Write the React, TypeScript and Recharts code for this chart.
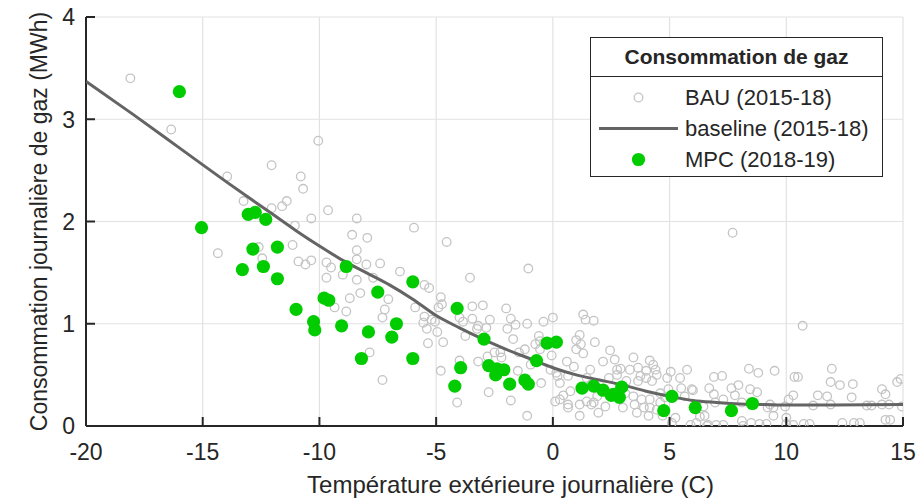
import React from 'react';
import { ScatterChart, Scatter, XAxis, YAxis, CartesianGrid, Legend } from 'recharts';

const FONT = '"Liberation Sans", Arial, Helvetica, sans-serif';
const INK = '#262626';
const BAU_COLOR = '#c4c4c4';
const BASELINE_COLOR = '#646464';
const MPC_COLOR = '#00cc00';
const TICK_LEN = 9;

const TEMP_TICKS = [-20, -15, -10, -5, 0, 5, 10, 15];
const GAS_TICKS = [0, 1, 2, 3, 4];

// BAU (2015-18): [temperature, gas MWh]
const BAU_POINTS: [number, number][] = [
  [-18.1, 3.4], [-16.35, 2.9], [-14.35, 1.69], [-13.95, 2.44], [-13.25, 2.2], [-12.6, 1.75],
  [-12.45, 1.64], [-12.05, 2.55], [-12.05, 2.13], [-11.6, 2.15], [-11.4, 2.2], [-11.15, 1.77],
  [-11.05, 1.96], [-10.9, 1.61], [-10.8, 2.44], [-10.7, 2.32], [-10.6, 1.58], [-10.35, 2.03],
  [-10.35, 1.62], [-10.05, 2.79], [-9.7, 1.45], [-9.7, 1.6], [-9.63, 2.11], [-9.5, 1.55],
  [-9.35, 1.16], [-9.0, 1.48], [-8.85, 1.12], [-8.7, 1.25], [-8.6, 1.87], [-8.4, 2.03],
  [-8.4, 1.72], [-8.4, 1.63], [-8.4, 1.43], [-8.25, 1.3], [-7.95, 1.84], [-7.99, 1.58],
  [-7.85, 0.72], [-7.7, 1.45], [-7.4, 1.59], [-7.3, 0.45], [-7.3, 1.06], [-7.2, 1.14],
  [-7.05, 1.24], [-6.55, 1.51], [-5.95, 1.94], [-5.9, 1.16], [-5.55, 1.01], [-5.5, 1.38],
  [-5.5, 1.07], [-5.4, 0.95], [-5.35, 0.81], [-5.3, 1.35], [-5.2, 1.04], [-5.05, 1.02],
  [-4.95, 0.92], [-4.9, 1.16], [-4.8, 1.26], [-4.8, 0.54], [-4.75, 1.19], [-4.7, 0.82],
  [-4.55, 1.8], [-4.1, 0.23], [-4.0, 0.64], [-4.0, 1.06], [-3.85, 1.02], [-3.75, 0.88],
  [-3.55, 1.45], [-3.45, 1.17], [-3.45, 1.05], [-3.25, 0.95], [-3.2, 0.98], [-3.2, 0.63],
  [-3.0, 1.18], [-2.85, 0.96], [-2.8, 0.68], [-2.75, 0.33], [-2.7, 1.04], [-2.5, 0.72],
  [-2.25, 0.72], [-2.2, 0.67], [-2.0, 1.15], [-1.95, 0.95], [-1.8, 1.05], [-1.8, 0.25],
  [-1.7, 0.85], [-1.6, 0.99], [-1.5, 0.54], [-1.45, 0.72], [-1.2, 0.75], [-1.1, 1.0],
  [-1.1, 0.1], [-1.05, 1.54], [-0.95, 0.6], [-0.75, 0.8], [-0.6, 0.88], [-0.55, 0.75],
  [-0.55, 0.83], [-0.5, 0.42], [-0.4, 1.02], [-0.1, 0.55], [-0.05, 0.69], [0.0, 1.06],
  [0.1, 0.24], [0.15, 0.52], [0.2, 0.49], [0.3, 0.26], [0.3, 0.42], [0.45, 0.3],
  [0.6, 0.63], [0.65, 0.18], [0.65, 0.49], [0.65, 0.21], [0.75, 0.34], [0.9, 0.58],
  [1.0, 0.84], [1.0, 0.75], [1.15, 0.89], [1.15, 0.1], [1.15, 0.21], [1.2, 0.8],
  [1.3, 0.71], [1.3, 1.09], [1.4, 1.04], [1.45, 0.24], [1.45, 0.47], [1.6, 0.55],
  [1.65, 0.21], [1.65, 0.41], [1.75, 1.03], [1.75, 0.23], [1.8, 0.82], [1.9, 0.29],
  [1.95, 0.13], [2.1, 0.36], [2.15, 0.63], [2.25, 0.19], [2.4, 0.47], [2.45, 0.74],
  [2.6, 0.29], [2.65, 0.65], [2.75, 0.55], [2.75, 0.5], [2.9, 0.56], [3.0, 0.18],
  [3.1, 0.32], [3.15, 0.44], [3.3, 0.55], [3.45, 0.67], [3.45, 0.29], [3.5, 0.21],
  [3.6, 0.13], [3.65, 0.57], [3.65, 0.44], [3.75, 0.49], [3.8, 0.26], [3.9, 0.18],
  [4.0, 0.54], [4.0, 0.47], [4.1, 0.1], [4.15, 0.64], [4.15, 0.26], [4.15, 0.18],
  [4.25, 0.44], [4.3, 0.6], [4.4, 0.55], [4.45, 0.5], [4.45, 0.16], [4.6, 0.32],
  [4.6, 0.23], [4.7, 0.1], [4.8, 0.28], [4.9, 0.47], [4.95, 0.36], [5.05, 0.53],
  [5.1, 0.03], [5.25, 0.08], [5.45, 0.47], [5.5, 0.37], [5.65, 0.29], [5.75, 0.55],
  [5.9, 0.01], [5.95, 0.36], [6.0, 0.35], [6.15, 0.03], [6.3, 0.09], [6.45, 0.19],
  [6.5, 0.1], [6.6, 0.0], [6.65, 0.01], [6.7, 0.37], [6.9, 0.48], [6.9, 0.31],
  [6.95, 0.23], [7.0, 0.01], [7.25, 0.49], [7.3, 0.26], [7.3, 0.01], [7.65, 0.37],
  [7.7, 1.89], [7.8, 0.3], [7.95, 0.4], [8.1, 0.05], [8.1, 0.23], [8.15, 0.0],
  [8.4, 0.56], [8.45, 0.36], [8.5, 0.03], [8.75, 0.33], [8.8, 0.52], [8.85, 0.02],
  [9.15, 0.02], [9.2, 0.18], [9.3, 0.21], [9.45, 0.18], [9.45, 0.1], [9.5, 0.54],
  [9.95, 0.19], [10.0, 0.08], [10.0, 0.02], [10.1, 0.26], [10.3, 0.3], [10.3, 0.01],
  [10.35, 0.48], [10.5, 0.48], [10.7, 0.98], [10.75, 0.02], [11.0, 0.02], [11.15, 0.2],
  [11.35, 0.3], [11.75, 0.29], [11.9, 0.43], [11.9, 0.21], [11.95, 0.56], [12.3, 0.4],
  [12.4, 0.03], [12.8, 0.28], [12.85, 0.41], [12.9, 0.03], [13.15, 0.03], [13.45, 0.2],
  [13.65, 0.2], [14.1, 0.36], [14.1, 0.21], [14.25, 0.31], [14.25, 0.06], [14.4, 0.21],
  [14.45, 0.06], [14.75, 0.43], [14.9, 0.46], [14.95, 0.19],
];

// baseline (2015-18)
const BASELINE_TEMPS = [-20, -18, -16, -14, -12, -11, -10, -9, -8, -7, -6, -5, -4, -3, -2, -1, 0, 1, 2, 3, 4, 5, 6, 7, 8, 9, 10, 12, 15];
const BASELINE_GAS = [3.37, 3.05, 2.72, 2.39, 2.07, 1.91, 1.76, 1.62, 1.5, 1.38, 1.24, 1.08, 0.96, 0.85, 0.75, 0.66, 0.57, 0.5, 0.45, 0.4, 0.34, 0.29, 0.25, 0.23, 0.215, 0.21, 0.205, 0.205, 0.21];

// MPC (2018-19): [temperature, gas MWh]
const MPC_POINTS: [number, number][] = [
  [-16.0, 3.27], [-15.05, 1.94], [-13.3, 1.53], [-13.05, 2.07], [-12.75, 2.09], [-12.85, 1.73],
  [-12.3, 2.02], [-12.4, 1.56], [-11.8, 1.75], [-11.8, 1.44], [-11.0, 1.14], [-10.25, 1.02],
  [-10.2, 0.94], [-9.8, 1.25], [-9.6, 1.23], [-9.05, 0.98], [-8.85, 1.56], [-8.2, 0.66],
  [-7.9, 0.92], [-7.5, 1.31], [-6.9, 0.87], [-6.7, 1.0], [-6.0, 1.41], [-6.0, 0.66],
  [-4.1, 1.15], [-4.2, 0.39], [-3.95, 0.57], [-2.95, 0.85], [-2.75, 0.59], [-2.45, 0.5],
  [-2.4, 0.56], [-2.1, 0.55], [-1.85, 0.41], [-1.2, 0.45], [-1.05, 0.41], [-0.7, 0.64],
  [-0.25, 0.81], [0.15, 0.82], [1.25, 0.37], [1.75, 0.39], [2.15, 0.35], [2.5, 0.3],
  [2.6, 0.31], [2.85, 0.28], [2.95, 0.38], [4.75, 0.15], [5.1, 0.29], [6.1, 0.18],
  [7.65, 0.15], [8.55, 0.22],
];

const bauData = BAU_POINTS.map(([x, y]) => ({ x, y }));
const baselineData = BASELINE_TEMPS.map((x, i) => ({ x, y: BASELINE_GAS[i] }));
const mpcData = MPC_POINTS.map(([x, y]) => ({ x, y }));

const OpenCircle = (props: any) => (
  <circle cx={props.cx} cy={props.cy} r={4.3} fill="none" stroke={BAU_COLOR} strokeWidth={1.3} />
);

const FilledDot = (props: any) => (
  <circle cx={props.cx} cy={props.cy} r={6.6} fill={MPC_COLOR} />
);

const NoMarker = () => <g />;

// tick label + inward tick mark (matlab-style box axes)
const BOTTOM_GAP = 17;
const LEFT_GAP = 11;

const BottomTick = (props: any) => {
  const { x, y, payload } = props;
  const axisY = y - BOTTOM_GAP;
  return (
    <g>
      <line x1={x} y1={axisY} x2={x} y2={axisY - TICK_LEN} stroke={INK} strokeWidth={2} />
      <text x={x} y={y} dy="0.72em" textAnchor="middle" fill={INK} fontSize={23} fontFamily={FONT}>
        {payload.value}
      </text>
    </g>
  );
};

const LeftTick = (props: any) => {
  const { x, y, payload } = props;
  const axisX = x + LEFT_GAP;
  return (
    <g>
      <line x1={axisX} y1={y} x2={axisX + TICK_LEN} y2={y} stroke={INK} strokeWidth={2} />
      <text x={x} y={y} dy="0.36em" textAnchor="end" fill={INK} fontSize={23} fontFamily={FONT}>
        {payload.value}
      </text>
    </g>
  );
};

const TopTick = (props: any) => (
  <line x1={props.x} y1={props.y} x2={props.x} y2={props.y + TICK_LEN} stroke={INK} strokeWidth={2} />
);

const RightTick = (props: any) => (
  <line x1={props.x} y1={props.y} x2={props.x - TICK_LEN} y2={props.y} stroke={INK} strokeWidth={2} />
);

const XLabel = (props: any) => {
  const vb = props.viewBox;
  return (
    <text x={vb.x + vb.width / 2 + 16} y={vb.y + vb.height - 9} textAnchor="middle" fill={INK} fontSize={24} fontFamily={FONT}>
      Température extérieure journalière (C)
    </text>
  );
};

const LegendBox = () => {
  const rows = [
    { name: 'BAU (2015-18)', kind: 'bau' },
    { name: 'baseline (2015-18)', kind: 'line' },
    { name: 'MPC (2018-19)', kind: 'mpc' },
  ];
  return (
    <div
      style={{
        boxSizing: 'border-box',
        width: 293,
        height: 140,
        border: `1.3px solid ${INK}`,
        background: '#fff',
        fontFamily: FONT,
        color: INK,
      }}
    >
      <div
        style={{
          height: 38,
          borderBottom: `1.3px solid ${INK}`,
          display: 'flex',
          alignItems: 'center',
          justifyContent: 'center',
          fontWeight: 'bold',
          fontSize: 21,
        }}
      >
        Consommation de gaz
      </div>
      <div style={{ paddingTop: 5 }}>
        {rows.map((r) => (
          <div key={r.name} style={{ height: 31, display: 'flex', alignItems: 'center' }}>
            <svg width={94} height={31} style={{ flexShrink: 0 }}>
              {r.kind === 'bau' && <circle cx={47.5} cy={15.5} r={4.3} fill="none" stroke={BAU_COLOR} strokeWidth={1.3} />}
              {r.kind === 'line' && <line x1={8} y1={15.5} x2={87} y2={15.5} stroke={BASELINE_COLOR} strokeWidth={3} />}
              {r.kind === 'mpc' && <circle cx={47.5} cy={15.5} r={6.6} fill={MPC_COLOR} />}
            </svg>
            <span style={{ fontSize: 22, whiteSpace: 'nowrap' }}>{r.name}</span>
          </div>
        ))}
      </div>
    </div>
  );
};

const axisLine = { stroke: INK, strokeWidth: 2 };

export default function App() {
  return (
    <div style={{ position: 'absolute', left: 0, top: 0, width: 922, height: 502, background: '#fff' }}>
      <ScatterChart width={922} height={502} margin={{ top: 17, right: 19, bottom: 0, left: 0 }}>
        <CartesianGrid stroke="#e2e2e2" strokeWidth={1.2} />
        <XAxis
          type="number"
          dataKey="x"
          domain={[-20, 15]}
          ticks={TEMP_TICKS}
          interval={0}
          allowDataOverflow
          height={76}
          axisLine={axisLine}
          tickLine={false}
          tickSize={0}
          tickMargin={BOTTOM_GAP}
          tick={<BottomTick />}
          label={{ content: <XLabel /> }}
        />
        <XAxis
          xAxisId="top"
          orientation="top"
          type="number"
          domain={[-20, 15]}
          ticks={TEMP_TICKS}
          interval={0}
          height={0}
          axisLine={axisLine}
          tickLine={false}
          tickSize={0}
          tickMargin={0}
          tick={<TopTick />}
        />
        <YAxis
          type="number"
          dataKey="y"
          domain={[0, 4]}
          ticks={GAS_TICKS}
          interval={0}
          allowDataOverflow
          width={86}
          axisLine={axisLine}
          tickLine={false}
          tickSize={0}
          tickMargin={LEFT_GAP}
          tick={<LeftTick />}
          label={{
            value: 'Consommation journalière de gaz (MWh)',
            angle: -90,
            position: 'center',
            dx: -4,
            style: { fill: INK, fontSize: 23, fontFamily: FONT },
          }}
        />
        <YAxis
          yAxisId="right"
          orientation="right"
          type="number"
          domain={[0, 4]}
          ticks={GAS_TICKS}
          interval={0}
          width={0}
          axisLine={axisLine}
          tickLine={false}
          tickSize={0}
          tickMargin={0}
          tick={<RightTick />}
        />
        <Scatter name="BAU (2015-18)" data={bauData} shape={OpenCircle} isAnimationActive={false} />
        <Scatter
          name="baseline (2015-18)"
          data={baselineData}
          shape={NoMarker}
          line={{ stroke: BASELINE_COLOR, strokeWidth: 3 }}
          lineJointType="monotoneX"
          isAnimationActive={false}
        />
        <Scatter name="MPC (2018-19)" data={mpcData} shape={FilledDot} isAnimationActive={false} />
        <Legend
          layout="vertical"
          align="center"
          verticalAlign="middle"
          wrapperStyle={{ position: 'absolute', left: 590, top: 37, width: 293, height: 140 }}
          content={() => <LegendBox />}
        />
      </ScatterChart>
    </div>
  );
}
